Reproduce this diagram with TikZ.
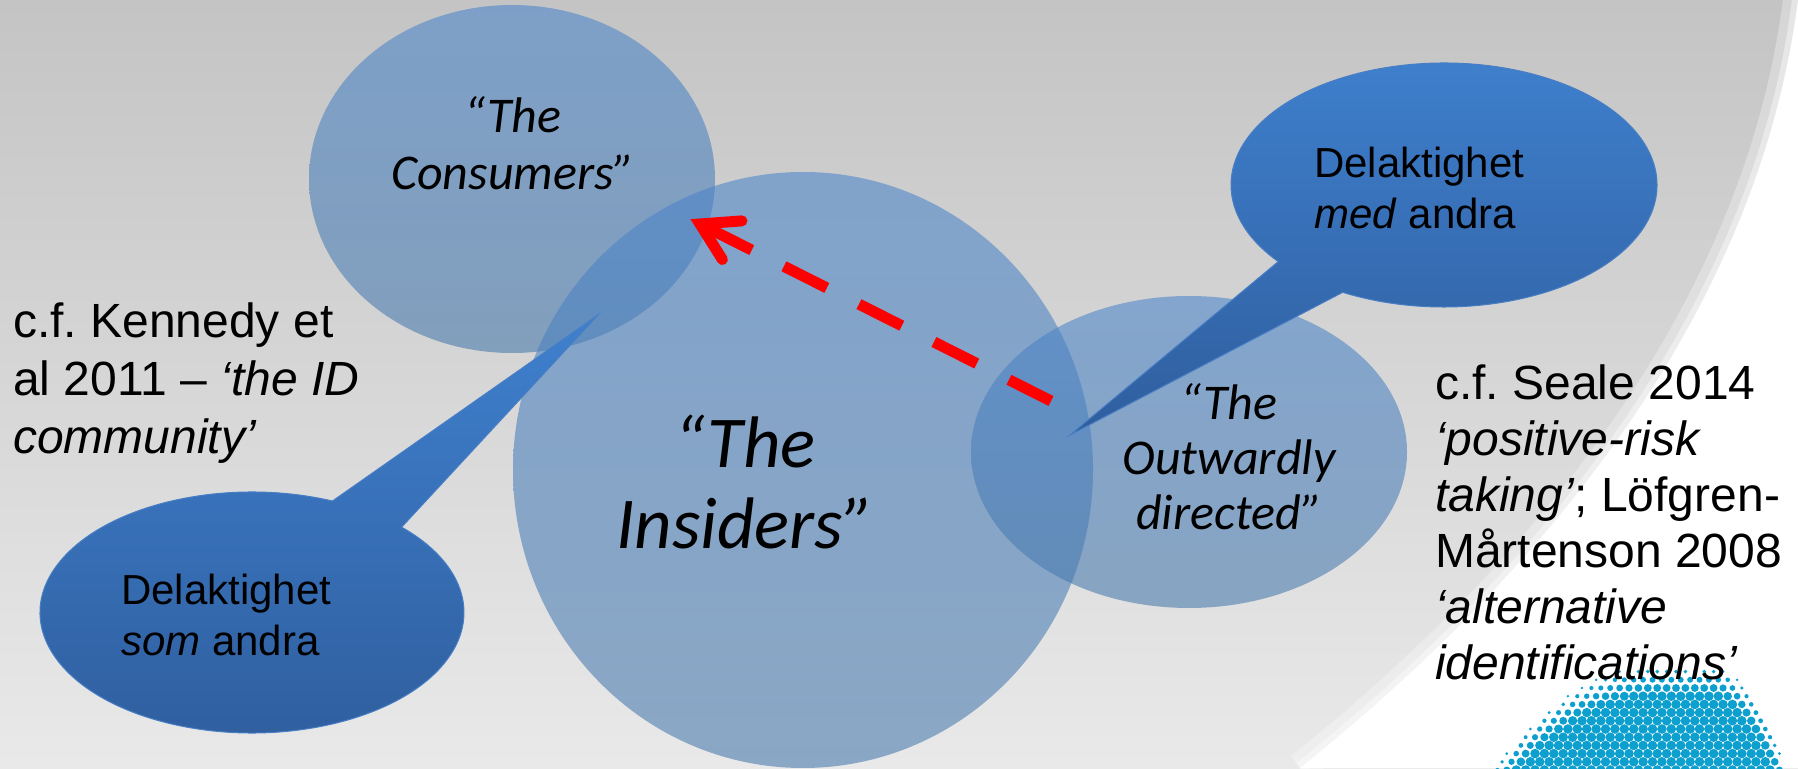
\documentclass[tikz,border=0pt]{standalone}
\usepackage{fontspec}
\setmainfont{Liberation Sans}
\newfontfamily\calib{Carlito}
\usetikzlibrary{shapes.geometric,calc}
\frenchspacing
\definecolor{bgtop}{RGB}{196,196,196}
\definecolor{bgmid}{RGB}{218,218,218}
\definecolor{bgbot}{RGB}{233,233,233}
\definecolor{circtop}{RGB}{75,133,202}
\definecolor{circbot}{RGB}{71,120,171}
\definecolor{calltop}{RGB}{63,128,206}
\definecolor{callbot}{RGB}{47,94,158}
\definecolor{calledge}{RGB}{72,126,196}
\definecolor{dotblue}{RGB}{13,160,207}
\definecolor{arrowred}{RGB}{255,0,0}
\begin{document}
\frenchspacing
\begin{tikzpicture}[x=1pt,y=1pt,
  venn/.style={ellipse, inner sep=0pt, shade, top color=circtop, bottom color=circbot, fill opacity=0.58},
  callout/.style={shade, top color=calltop, bottom color=callbot, draw=calledge, line width=1pt},
  lbl/.style={inner sep=0pt, anchor=base west, font=\fontsize{48}{58}\selectfont},
  calltext/.style={inner sep=0pt, anchor=base west, font=\fontsize{42}{50}\selectfont},
  vtext/.style={inner sep=0pt, anchor=base, font=\calib\itshape\fontsize{50}{60}\selectfont},
  bigtext/.style={inner sep=0pt, anchor=base, font=\calib\itshape\fontsize{73}{80}\selectfont},
  redline/.style={draw=arrowred, line width=11pt}
]
\useasboundingbox (0,0) rectangle (1798,768);
\clip (0,0) rectangle (1798,768);
% background
\shade[top color=bgtop, middle color=bgmid, bottom color=bgbot] (0,0) rectangle (1798,768);
% white swoosh
\fill[white] (1798,768) .. controls (1760,468) and (1560,208) .. (1300,0) -- (1798,0) -- cycle;
\draw[white, line width=30pt, opacity=0.3] (1798,768) .. controls (1760,468) and (1560,208) .. (1300,0);
\draw[white, line width=12pt, opacity=0.4] (1798,768) .. controls (1760,468) and (1560,208) .. (1300,0);
% halftone dots
\foreach \j in {0,...,13}{
  \foreach \i in {0,...,33}{
    \pgfmathsetmacro\xx{1488+\i*9.4+mod(\j,2)*4.7}
    \pgfmathsetmacro\yy{770-\j*8.2}
    \pgfmathsetmacro\ua{max(0,(1655-\xx)/16)}
    \pgfmathsetmacro\ub{max(0,(\xx-1710)/7.5)}
    \pgfmathsetmacro\yt{666+\ua*\ua+\ub*\ub}
    \pgfmathsetmacro\dd{\yy-\yt}
    \ifdim\dd pt>0pt
      \pgfmathsetmacro\rr{min(4.8,1.3+0.12*\dd)}
      \fill[dotblue] (\xx,{768-\yy}) circle[radius=\rr];
    \fi
  }
}
% venn ellipses
\node[venn, minimum width=406pt, minimum height=348pt] (cons) at (512,589) {};
\node[venn, minimum width=580pt, minimum height=596pt] (ins) at (803,298) {};
\node[venn, minimum width=436pt, minimum height=312pt] (outw) at (1189,316) {};
% callouts
\coordinate (medc) at (1444,583);
\coordinate (medtip) at (1070,333);
\path[callout] ([shift={(241.6:213 and 122)}]medc) arc[start angle=241.6, end angle=578.9, x radius=213, y radius=122] -- (medtip) -- cycle;
\coordinate (somc) at (252,155.5);
\coordinate (somtip) at (598,453);
\path[callout] ([shift={(67.7:212 and 120.5)}]somc) arc[start angle=67.7, end angle=405.1, x radius=212, y radius=120.5] -- (somtip) -- cycle;
% red dashed arrow
\coordinate (atip) at (700,544);
\coordinate (astart) at (1051,367);
\draw[redline, dash pattern=on 58pt off 36pt on 48pt off 36pt on 48pt off 36pt on 48pt off 36pt on 48pt off 36pt] (atip) -- (astart);
\draw[redline, line cap=round, line join=miter] ($(atip)!42pt!31:(astart)$) -- (atip) -- ($(atip)!42pt!-31:(astart)$);
% venn texts
\node[vtext] (c1) at (513,635) {“The};
\node[vtext] (c2) at (513,578) {Consumers”};
\node[bigtext] (i1) at (745,300) {“The};
\node[bigtext] (i2) at (745,219) {Insiders”};
\node[vtext] (o1) at (1229,348) {“The};
\node[vtext] (o2) at (1229,293) {Outwardly};
\node[vtext] (o3) at (1229,238) {directed”};
% callout texts
\node[calltext] (som1) at (121,163) {Delaktighet};
\node[calltext] (som2) at (121,112) {\textit{som} andra};
\node[calltext] (med1) at (1314,590) {Delaktighet};
\node[calltext] (med2) at (1314,539) {\textit{med} andra};
% references
\node[lbl] (k1) at (13,430) {c.f. Kennedy et};
\node[lbl] (k2) at (13,372) {al 2011 – \textit{‘the ID}};
\node[lbl] (k3) at (13,314) {\textit{community’}};
\node[lbl] (s1) at (1435,368) {c.f. Seale 2014};
\node[lbl] (s2) at (1435,312) {\textit{‘positive-risk}};
\node[lbl] (s3) at (1435,256) {\textit{taking’}; Löfgren-};
\node[lbl] (s4) at (1435,200) {Mårtenson 2008};
\node[lbl] (s5) at (1435,144) {\textit{‘alternative}};
\node[lbl] (s6) at (1435,88) {\textit{identifications’}};
\end{tikzpicture}
\end{document}
